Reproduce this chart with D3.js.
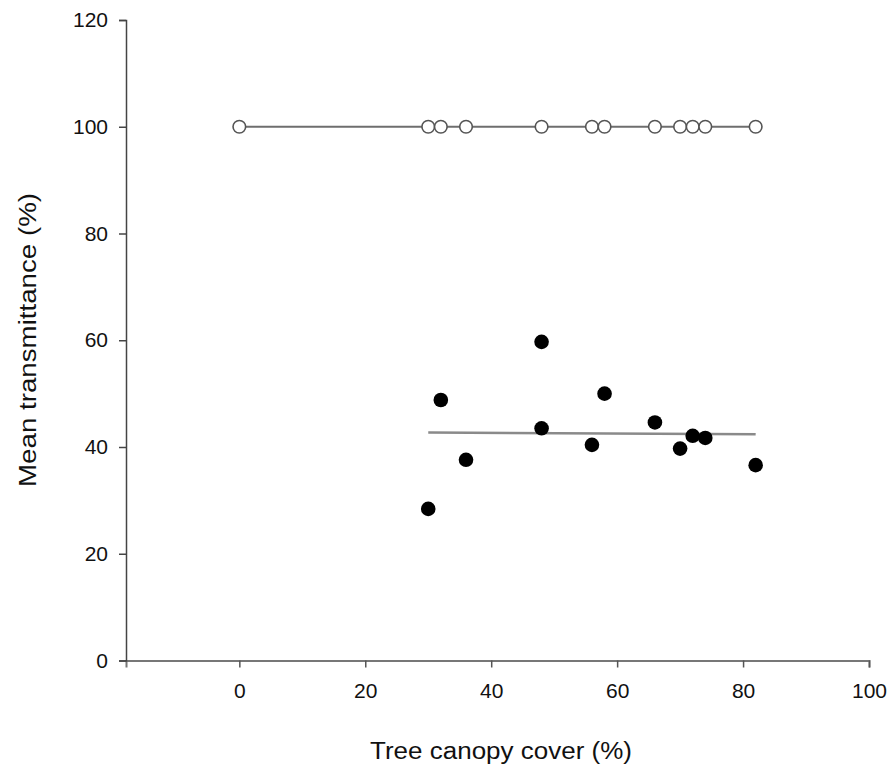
<html>
<script src='https://d3js.org/d3.v7.min.js'></script>
<style>
body { margin: 0; background: white; }
svg { font-family: 'Liberation Sans', Arial, sans-serif; }
</style>
<body>
<svg width="889" height="774"></svg>
<script>
// canopy cover (%) of each site
var canopy = [0, 30, 32, 36, 48, 56, 58, 66, 70, 72, 74, 82];
// open circles: transmittance without canopy
var openVals = [100, 100, 100, 100, 100, 100, 100, 100, 100, 100, 100, 100];
// filled circles: sites with canopy (first site has none)
var filledX = [30, 32, 36, 48, 48, 56, 58, 66, 70, 72, 74, 82];
var filledVals = [28.4, 48.8, 37.6, 59.7, 43.5, 40.4, 50.0, 44.6, 39.7, 42.1, 41.7, 36.6];
// fitted lines
var openFitX = [0, 82], openFitY = [100, 100];
var filledFitX = [30, 82], filledFitY = [42.7, 42.4];
var xTicks = [0, 20, 40, 60, 80, 100];
var yTicks = [0, 20, 40, 60, 80, 100, 120];

var svg = d3.select("svg");
var x = d3.scaleLinear().domain([-18, 100]).range([126, 869]);
var y = d3.scaleLinear().domain([0, 120]).range([660.5, 20]);

// axes
var xAxis = svg.append("g")
    .attr("transform", "translate(0,660.5)")
    .call(d3.axisBottom(x).tickValues(xTicks).tickSizeOuter(0).tickSize(7).tickPadding(16));
xAxis.select(".domain").attr("stroke", "#777").attr("stroke-width", 2);
xAxis.selectAll(".tick line").attr("stroke", "#555").attr("stroke-width", 1.5);
xAxis.selectAll("text").attr("font-size", "21px").attr("fill", "#111")
    .attr("font-family", "'Liberation Sans', Arial, sans-serif");

var yAxis = svg.append("g")
    .attr("transform", "translate(126,0)")
    .call(d3.axisLeft(y).tickValues(yTicks).tickSizeOuter(0).tickSize(7).tickPadding(11));
yAxis.select(".domain").attr("stroke", "#444").attr("stroke-width", 1.5);
yAxis.selectAll(".tick line").attr("stroke", "#444").attr("stroke-width", 1.5);
yAxis.selectAll("text").attr("font-size", "21px").attr("fill", "#111")
    .attr("font-family", "'Liberation Sans', Arial, sans-serif");

// fitted lines
var line = d3.line().x(function(d) { return x(d[0]); }).y(function(d) { return y(d[1]); });
svg.append("path")
    .attr("d", line(d3.zip(openFitX, openFitY)))
    .attr("fill", "none").attr("stroke", "#6e6e6e").attr("stroke-width", 2);
svg.append("path")
    .attr("d", line(d3.zip(filledFitX, filledFitY)))
    .attr("fill", "none").attr("stroke", "#8a8a8a").attr("stroke-width", 2.5);

// open circles
svg.selectAll(".open")
    .data(d3.zip(canopy, openVals))
    .enter().append("circle")
    .attr("class", "open")
    .attr("cx", function(d) { return x(d[0]); })
    .attr("cy", function(d) { return y(d[1]); })
    .attr("r", 6.3)
    .attr("fill", "white")
    .attr("stroke", "#555")
    .attr("stroke-width", 1.6);

// filled circles
svg.selectAll(".filled")
    .data(d3.zip(filledX, filledVals))
    .enter().append("circle")
    .attr("class", "filled")
    .attr("cx", function(d) { return x(d[0]); })
    .attr("cy", function(d) { return y(d[1]); })
    .attr("r", 7.3)
    .attr("fill", "#000");

// axis titles
svg.append("text")
    .attr("x", 501).attr("y", 759)
    .attr("text-anchor", "middle")
    .attr("font-size", "23px")
    .attr("fill", "#111")
    .attr("textLength", 262)
    .attr("lengthAdjust", "spacingAndGlyphs")
    .text("Tree canopy cover (%)");

svg.append("text")
    .attr("transform", "translate(36,340) rotate(-90)")
    .attr("text-anchor", "middle")
    .attr("font-size", "23px")
    .attr("fill", "#111")
    .attr("textLength", 294)
    .attr("lengthAdjust", "spacingAndGlyphs")
    .text("Mean transmittance (%)");
</script>
</body>
</html>
